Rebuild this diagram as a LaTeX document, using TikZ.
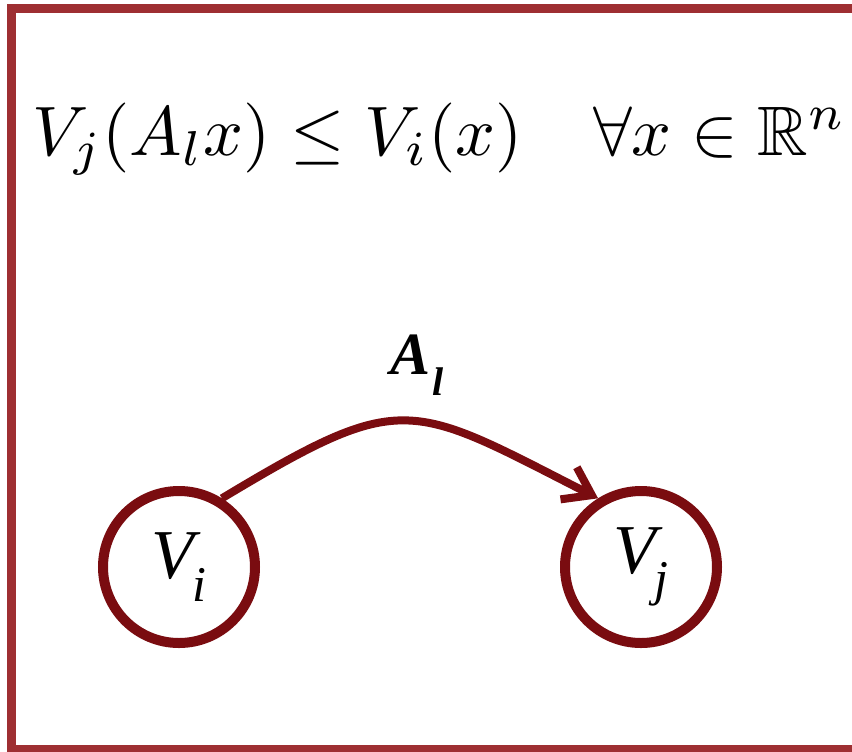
\documentclass[tikz,border=0pt]{standalone}
\usepackage{amsmath}
\usepackage{amssymb}
\usepackage{fontspec}
\newfontfamily\timesfont{Liberation Serif}
\usetikzlibrary{positioning, arrows.meta}
\definecolor{frameRed}{RGB}{158, 47, 50}
\definecolor{nodeRed}{RGB}{122, 12, 16}
\newcommand{\vname}[1]{{\timesfont\itshape V\kern-1pt\raisebox{-0.32em}{\fontsize{25}{25}\selectfont #1}}}
\tikzset{
    statenode/.style={
        circle, draw=nodeRed, fill=white, line width=5pt,
        minimum size=76pt, inner sep=0pt,
        font=\fontsize{35}{40}\selectfont,
    },
    trans/.style={
        -{Straight Barb[length=13pt, width=18pt]}, line width=4pt,
        draw=nodeRed,
    },
    tlab/.style={
        font=\fontsize{30}{34}\selectfont, inner sep=1pt,
    },
}

\begin{document}
\begin{tikzpicture}[x=0.5pt, y=-0.5pt]

% ============================================================
%   Canvas and outer frame (right side runs off the page)
% ============================================================
\useasboundingbox (0,0) rectangle (852,751);
\clip (0,0) rectangle (852,751);
\draw[frameRed, line width=4.5pt] (11,8.5) rectangle (870,749);

% ============================================================
%   Condition
% ============================================================
\node[anchor=base west, inner sep=0pt] (cond) at (32,155)
    {\scalebox{3.5}{$V_j(A_lx) \leq V_i(x) \quad \forall x \in \mathbb{R}^n$}};

% ============================================================
%   Nodes
% ============================================================
\node[statenode] (Vi) at (179,567) {\vname{i}};
\node[statenode] (Vj) at (641,567) {\vname{j}};

% ============================================================
%   Edge
% ============================================================
\draw[trans] (Vi.58) to[out=31, in=153, looseness=1.45]
    node[tlab, midway, above=10pt, xshift=5pt]
    {{\timesfont\bfseries\itshape A\kern1pt\raisebox{-0.35em}{\fontsize{20}{20}\selectfont l}}}
    (Vj.122);

\end{tikzpicture}
\end{document}
